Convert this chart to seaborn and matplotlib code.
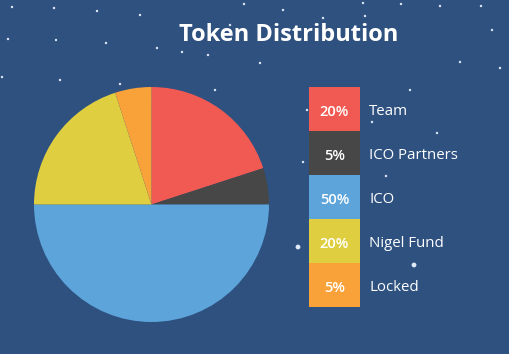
import matplotlib
matplotlib.use("Agg")
import matplotlib.pyplot as plt
import seaborn as sns
import pandas as pd

# Token split
labels = ['Team', 'ICO Partners', 'ICO', 'Nigel Fund', 'Locked']
shares = [20, 5, 50, 20, 5]
colors = ['#f05a52', '#474747', '#5ca4da', '#dfcf40', '#f9a23a']

# decorative star field (pixel positions, size)
star_x = [12, 54, 97, 140, 244, 283, 363, 401, 440, 481, 8, 56, 106, 157, 208,
          260, 323, 365, 2, 60, 120, 460, 492, 307, 372, 437, 303, 386, 414, 298,
          182, 150, 215, 410, 500, 230]
star_y = [7, 8, 11, 15, 4, 10, 3, 4, 6, 6, 39, 40, 43, 48, 55,
          63, 18, 16, 77, 80, 84, 62, 30, 110, 122, 133, 162, 176, 265, 247,
          52, 97, 90, 90, 68, 25]
star_s = [3, 3, 3, 3, 3, 3, 3, 3, 3, 3, 3, 3, 3, 3, 3,
          3, 3, 3, 3, 3, 3, 3, 3, 3, 3, 3, 3, 3, 12, 12,
          3, 3, 3, 3, 3, 3]

bg = '#2e5180'
sns.set_theme(style='white')
plt.rcParams['font.family'] = ['Open Sans', 'DejaVu Sans']

fig = plt.figure(figsize=(5.1, 3.54), dpi=100, facecolor=bg)

# background with stars
ax_bg = fig.add_axes([0, 0, 1, 1])
ax_bg.set_facecolor(bg)
sns.scatterplot(x=star_x, y=star_y, size=star_s, sizes=(3, 12), color='#dfe8f5',
                edgecolor='none', legend=False, ax=ax_bg)
ax_bg.set_xlim(0, 510)
ax_bg.set_ylim(354, 0)
ax_bg.axis('off')

fig.text(289 / 510, 1 - 35 / 354, 'Token Distribution', color='white',
         fontsize=17, fontweight='bold', ha='center', va='center')

# pie
ax_pie = fig.add_axes([34 / 510, 1 - 322 / 354, 235 / 510, 235 / 354])
ax_pie.pie(shares, colors=colors, startangle=90, counterclock=False,
           wedgeprops={'linewidth': 0})
ax_pie.set_xlim(-1, 1)
ax_pie.set_ylim(-1, 1)
ax_pie.set_aspect('equal')
ax_pie.axis('off')

# legend as colored bar boxes
df = pd.DataFrame({'label': labels, 'val': [1] * len(labels)})
ax_leg = fig.add_axes([309 / 510, 1 - 307 / 354, 51 / 510, 220 / 354])
sns.barplot(data=df, x='val', y='label', hue='label', palette=colors,
            saturation=1, width=1.0, legend=False, ax=ax_leg, linewidth=0)
ax_leg.set_xlim(0, 1)
ax_leg.set_ylim(len(labels) - 0.5, -0.5)
ax_leg.axis('off')
for i, (lab, s) in enumerate(zip(labels, shares)):
    ax_leg.text(0.5, i + 0.06, f'{s}%', color='white', fontsize=10.5, fontweight='semibold',
                ha='center', va='center')
    ax_leg.text(1.18, i + 0.06, lab, color='white', fontsize=10.8, ha='left', va='center',
                clip_on=False)

fig.savefig('out.png', dpi=100, facecolor=bg)
